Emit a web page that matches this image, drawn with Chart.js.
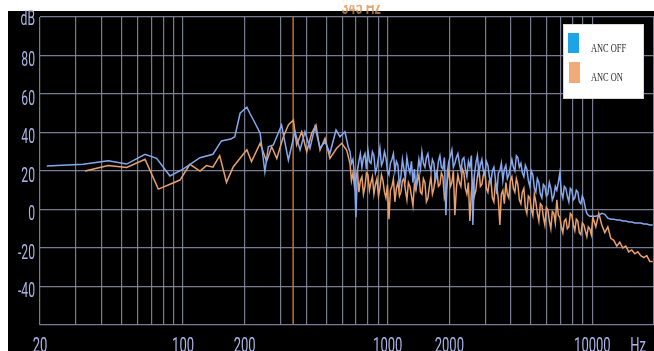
<!DOCTYPE html>
<html>
<head>
<meta charset="utf-8">
<script src="https://cdn.jsdelivr.net/npm/chart.js@4.4.1/dist/chart.umd.min.js"></script>
<style>
  html, body { margin: 0; padding: 0; background: #ffffff; }
  #wrap { width: 654px; height: 351px; }
</style>
</head>
<body>
<div id="wrap"><canvas id="c" width="654" height="351"></canvas></div>
<script>
// Series names
const seriesNames = ['ANC OFF', 'ANC ON'];

// Low-frequency part of each response (Hz, dB)
const offFreqLow = [21.6, 32.5, 43.1, 53, 65.2, 74.3, 86.3, 100, 121, 140, 154, 171, 179, 190, 205, 212, 225, 238, 251, 261, 276, 303, 327, 352, 373, 394, 417, 441, 467, 494, 522, 559, 584, 618, 641];
const offDbLow = [22.6, 23.5, 25.3, 23.6, 28.7, 26.6, 17.4, 21, 26.9, 28.7, 35.6, 36.6, 37.8, 50, 53.1, 50, 44.8, 39.6, 19.6, 32.6, 33.5, 43.9, 25.7, 40.4, 30.9, 40.4, 31.8, 43, 31.8, 35.3, 29.2, 41.3, 37.8, 40.4, 32.6];

const onFreqLow = [33.2, 43.1, 53, 65.2, 75.7, 86.3, 96.6, 108, 121, 130, 140, 151, 163, 176, 205, 216, 238, 256, 271, 287, 309, 327, 346, 359, 380, 402, 425, 446, 467, 494, 522, 563, 596, 630];
const onDbLow = [20, 22.8, 21.8, 26.1, 10.6, 13.1, 15.3, 23.5, 20, 22.8, 22, 28, 14.1, 22.2, 31, 24.9, 34.4, 24.9, 32.6, 26.5, 37.8, 43.9, 46.5, 33.5, 40.4, 30, 39.6, 43.9, 30.9, 37, 26.5, 31.8, 34.4, 30.9];

// Shared frequency bins of the dense upper band (Hz)
const freqHigh = [
  654, 665, 676, 688, 699, 711, 723, 735, 748, 761, 774, 787, 800, 814, 828, 842, 856, 871, 886, 901,
  916, 932, 948, 964, 980, 997, 1014, 1031, 1048, 1066, 1084, 1102, 1122, 1141, 1160, 1180, 1200, 1220, 1241, 1262,
  1284, 1306, 1328, 1350, 1373, 1397, 1420, 1445, 1469, 1494, 1520, 1545, 1572, 1598, 1626, 1653, 1681, 1710, 1739, 1769,
  1799, 1829, 1860, 1892, 1924, 1957, 1990, 2024, 2058, 2093, 2129, 2165, 2202, 2240, 2278, 2316, 2356, 2396, 2437, 2478,
  2520, 2563, 2607, 2651, 2696, 2742, 2789, 2836, 2884, 2933, 2983, 3034, 3086, 3138, 3191, 3246, 3301, 3357, 3414, 3472,
  3531, 3591, 3652, 3714, 3778, 3842, 3907, 3974, 4041, 4110, 4180, 4251, 4323, 4397, 4472, 4548, 4625, 4704, 4784, 4865,
  4948, 5032, 5118, 5205, 5293, 5383, 5475, 5568, 5663, 5759, 5857, 5957, 6058, 6161, 6266, 6373, 6481, 6591, 6703, 6817,
  6933, 7051, 7171, 7293, 7417, 7543, 7671, 7802, 7935, 8070, 8207, 8346, 8488, 8633, 8780, 8929, 9081, 9235, 9392, 9552,
  9715, 9880, 10048, 10392, 10749, 11118, 11499, 11894, 12302, 12724, 13160, 13612, 14079, 14562, 15061, 15578, 16112, 16665, 17237, 17828,
  18440, 19073, 19727
];

const offDbHigh = [
  30, 24, 26, 18, -4, 20, 25, 29, 22, 27, 29, 21, 31, 25, 24, 30, 28, 19, 22, 27,
  32, 23, 25, 30, 27, 20, 18, 24, 26, 29, 20, 25, 23, 12, 17, 26, 21, 16, 27, 22,
  19, 25, 14, 21, 10, 19, 26, 21, 30, 24, 22, 27, 29, 23, 20, 26, 24, 15, 18, 25,
  28, 22, 21, 27, -3, 20, 25, 28, 31, 22, 24, 27, 29, 24, 20, 26, 27, 21, 17, 25,
  22, 28, -8, 18, 24, 28, 19, 23, 26, 20, 18, 25, 23, 17, 14, 20, 22, 16, 8, 19,
  20, 24, 15, 21, 23, 16, 18, 22, 26, 22, 20, 28, 27, 22, 24, 19, 17, 23, 21, 15,
  12, 20, 18, 11, 9, 16, 14, 8, 6, 13, 12, 7, 8, 14, 11, 5, 7, 12, 10, 14,
  19, 9, 6, 12, 11, 7, 4, 11, 10, 5, 6, 10, 9, 4, 3, 7, 5, 1, -2, -3,
  -3.5, -3.5, -3.5, -3.5, -3, -2, -2.5, -4.5, -5, -5, -5.5, -5.5, -6, -6, -6.5, -6.5, -7, -7, -7, -7.5,
  -7.5, -8, -8
];

const onDbHigh = [
  24, 15, 19, 12, 16, 20, 9, 15, 17, 8, 12, 19, 18, 10, 14, 17, 8, 13, 16, 7,
  11, 18, 15, 9, 6, 13, -5, 10, 12, 16, 4, 11, 14, 7, 9, 15, 16, 10, 5, 14,
  12, 7, 2, 13, 10, 15, 18, 9, 8, 16, 14, 4, 6, 12, 17, 8, 11, 18, 20, 12,
  13, 19, 17, 6, 9, 15, 21, 12, 14, 20, -3, 11, 18, 14, 12, 21, 19, 11, 8, 14,
  -6, 9, 15, 7, 10, 17, 22, 12, 13, 18, 20, 11, 9, 15, 16, 6, 4, 14, 12, 5,
  -8, 8, 10, 3, 14, 8, 6, 15, 17, 11, 9, 16, 13, 5, 3, 9, 11, 1, -2, 7,
  6, 0, -3, 8, 4, -2, -6, 3, 2, -4, -8, 1, 0, -6, -10, -1, -2, -7, 5, -3,
  -4, -9, -12, -6, -5, -10, -9, -2, -3, -8, -11, -5, -6, -12, -13, -7, -8, -11, -14, -9,
  -10, -13, -4, -9, -2, -8, -12, -9, -15, -16, -19, -17, -20, -19, -22, -21, -23, -22, -24, -25,
  -24, -27, -27
];

// Cursor frequency marker
const markerFreq = 345;
const markerText = '345 Hz';

// Axis ranges, grid and labels
const xMin = 20, xMax = 20000;
const xGridValues = [20, 30, 40, 50, 60, 70, 80, 90, 100, 200, 300, 400, 500, 600, 700, 800, 900, 1000, 2000, 3000, 4000, 5000, 6000, 7000, 8000, 9000, 10000, 20000];
const xTickValues = [20, 100, 200, 1000, 2000, 10000, 20000];
const xTickLabels = ['20', '100', '200', '1000', '2000', '10000', 'Hz'];
const yMin = -60, yMax = 100, yStep = 20;
const yTickValues = [100, 80, 60, 40, 20, 0, -20, -40];
const yTickLabels = ['dB', '80', '60', '40', '20', '0', '-20', '-40'];

const colOff = '#86a9ee';
const colOn = '#e8a06c';
const colMarker = '#c47a3e';
const colLegendOff = '#1ea4e6';
const colLegendOn = '#f0aa78';
const colTick = '#abb5e6';
const colGrid = 'rgba(140,144,168,0.85)';

function toPoints(fs, vs) {
  return fs.map((f, i) => ({ x: f, y: vs[i] }));
}

const offData = toPoints(offFreqLow.concat(freqHigh), offDbLow.concat(offDbHigh));
const onData = toPoints(onFreqLow.concat(freqHigh), onDbLow.concat(onDbHigh));
const markerData = [{ x: markerFreq, y: yMin }, { x: markerFreq, y: yMax }];

function squeezedText(ctx, text, x, y, align, sx) {
  ctx.save();
  ctx.translate(x, y);
  ctx.scale(sx, 1);
  ctx.textAlign = align;
  ctx.textBaseline = 'alphabetic';
  ctx.fillText(text, 0, 0);
  ctx.restore();
}

const backdrop = {
  id: 'backdrop',
  beforeDraw(chart) {
    const ctx = chart.ctx;
    ctx.save();
    ctx.fillStyle = '#ffffff';
    ctx.fillRect(0, 0, chart.width, chart.height);
    ctx.fillStyle = '#000000';
    ctx.fillRect(8, 11, chart.width - 8, chart.height - 11);
    ctx.restore();
  },
  afterDraw(chart) {
    const ctx = chart.ctx;
    const xs = chart.scales.x, ys = chart.scales.y;
    ctx.save();
    // y labels
    ctx.fillStyle = colTick;
    ctx.font = '21px Roboto';
    yTickValues.forEach((v, i) => {
      const py = ys.getPixelForValue(v);
      const off = v === yMax ? 8 : 10.5;
      squeezedText(ctx, yTickLabels[i], 35, py + off, 'right', 0.58);
    });
    // x labels
    xTickValues.forEach((v, i) => {
      let px = xs.getPixelForValue(v);
      const w = ctx.measureText(xTickLabels[i]).width * 0.62;
      if (px + w / 2 > chart.width - 8) px = chart.width - 8 - w / 2;
      squeezedText(ctx, xTickLabels[i], px, 352, 'center', 0.62);
    });
    // cursor readout at the top edge
    ctx.fillStyle = 'rgba(214,140,72,0.75)';
    ctx.font = 'bold 20px Roboto';
    squeezedText(ctx, markerText, xs.getPixelForValue(markerFreq) + 68, 14, 'center', 0.62);
    ctx.fillStyle = 'rgba(255,255,255,0.9)';
    ctx.fillRect(300, 0, 120, 5);

    // legend
    const lx = 563, ly = 24, lw = 81, lh = 75;
    ctx.fillStyle = '#ffffff';
    ctx.fillRect(lx, ly, lw, lh);
    ctx.strokeStyle = '#d8d8d8';
    ctx.lineWidth = 1;
    ctx.strokeRect(lx + 0.5, ly + 0.5, lw - 1, lh - 1);
    ctx.fillStyle = colLegendOff;
    ctx.fillRect(568, 33, 11, 20);
    ctx.fillStyle = colLegendOn;
    ctx.fillRect(569, 62, 11, 21);
    ctx.fillStyle = '#2a2a2a';
    ctx.font = '13.5px "Liberation Serif"';
    squeezedText(ctx, seriesNames[0], 591, 52, 'left', 0.62);
    squeezedText(ctx, seriesNames[1], 591, 81, 'left', 0.62);
    ctx.restore();
  }
};

new Chart(document.getElementById('c'), {
  type: 'line',
  data: {
    datasets: [
      { label: seriesNames[0], data: offData, borderColor: colOff, borderWidth: 1.5, pointRadius: 0, tension: 0, fill: false },
      { label: seriesNames[1], data: onData, borderColor: colOn, borderWidth: 1.5, pointRadius: 0, tension: 0, fill: false },
      { label: 'marker', data: markerData, borderColor: colMarker, borderWidth: 1.4, pointRadius: 0, fill: false }
    ]
  },
  options: {
    responsive: false,
    animation: false,
    devicePixelRatio: 1,
    layout: { padding: { left: 40, top: 17, right: 0, bottom: 26 } },
    plugins: { legend: { display: false }, tooltip: { enabled: false } },
    scales: {
      x: {
        type: 'logarithmic',
        min: xMin, max: xMax,
        afterBuildTicks(scale) { scale.ticks = xGridValues.map(v => ({ value: v })); },
        ticks: { display: false },
        grid: { color: colGrid, lineWidth: 1.2, drawTicks: false },
        border: { display: false }
      },
      y: {
        type: 'linear',
        min: yMin, max: yMax,
        ticks: { display: false, stepSize: yStep },
        grid: { color: colGrid, lineWidth: 1.2, drawTicks: false },
        border: { display: false }
      }
    }
  },
  plugins: [backdrop]
});
</script>
</body>
</html>
